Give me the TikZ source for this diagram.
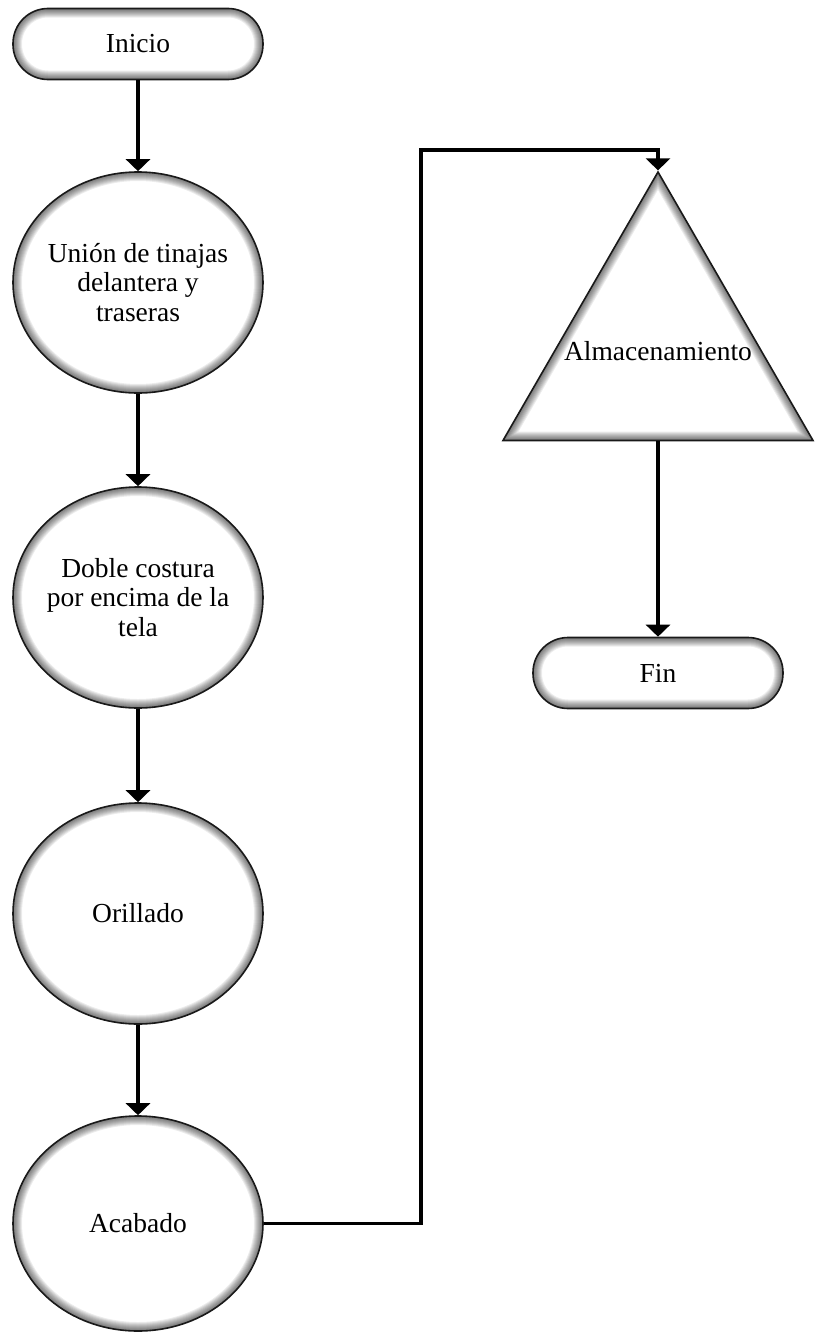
\documentclass[tikz,border=0pt]{standalone}
\usepackage{fontspec}
\setmainfont{Liberation Serif}
\usetikzlibrary{arrows.meta,shapes.geometric,calc}
\newcommand{\boxfont}{\fontsize{27.5}{29.5}\selectfont}
\tikzset{
  glowpen/.style ={line width=#1, black, opacity=0.075},
  term/.style    ={draw=black!90, line width=1.6pt, fill=white, rounded corners=35pt, minimum width=250pt, minimum height=71pt, font=\boxfont,
                   path picture={\foreach \w in {2,4,...,18}{\draw[glowpen=\w pt, rounded corners=35pt] (path picture bounding box.south west) rectangle (path picture bounding box.north east);}}},
  proc/.style    ={draw=black!90, line width=1.6pt, fill=white, ellipse, minimum width=250pt, minimum height=#1, inner sep=-6pt, align=center, font=\boxfont,
                   path picture={\foreach \w in {2,4,...,18}{\draw[glowpen=\w pt] let \p1=(path picture bounding box.north east), \p2=(path picture bounding box.center) in (\p2) ellipse [x radius=\x1-\x2, y radius=\y1-\y2];}}},
  proc/.default=221pt,
  store/.style   ={draw=black!90, line width=1.6pt, fill=white, regular polygon, regular polygon sides=3, minimum size=358pt, inner sep=0pt, font=\boxfont,
                   path picture={\foreach \w in {2,4,...,18}{\draw[glowpen=\w pt] (path picture bounding box.north) -- (path picture bounding box.south west) -- (path picture bounding box.south east) -- cycle;}}},
  flow/.style    ={-{Triangle[width=24pt, length=12pt]}, line width=3.2pt}
}
\begin{document}
\begin{tikzpicture}[x=1pt, y=-1pt]
  \useasboundingbox (0,0) rectangle (819,1341);
  \node[term] (inicio) at (138,44) {Inicio};
  \node[proc] (union) at (138,282.5) {Unión de tinajas\\delantera y\\traseras};
  \node[proc] (doble) at (138,597.5) {Doble costura\\por encima de la\\tela};
  \node[proc] (orilla) at (138,913.5) {Orillado};
  \node[proc=215pt] (acaba) at (138,1223.5) {Acabado};
  \node[store] (almacen) at (658,351) {\makebox[0pt]{Almacenamiento}};
  \node[term] (fin) at (658,673) {Fin};
  \coordinate (giro) at (421,150);
  \draw[flow] (inicio) -- (union);
  \draw[flow] (union) -- (doble);
  \draw[flow] (doble) -- (orilla);
  \draw[flow] (orilla) -- (acaba);
  \draw[flow] (acaba.east) -| (giro) -| (almacen.north);
  \draw[flow] (almacen.south) -- (fin);
\end{tikzpicture}
\end{document}
